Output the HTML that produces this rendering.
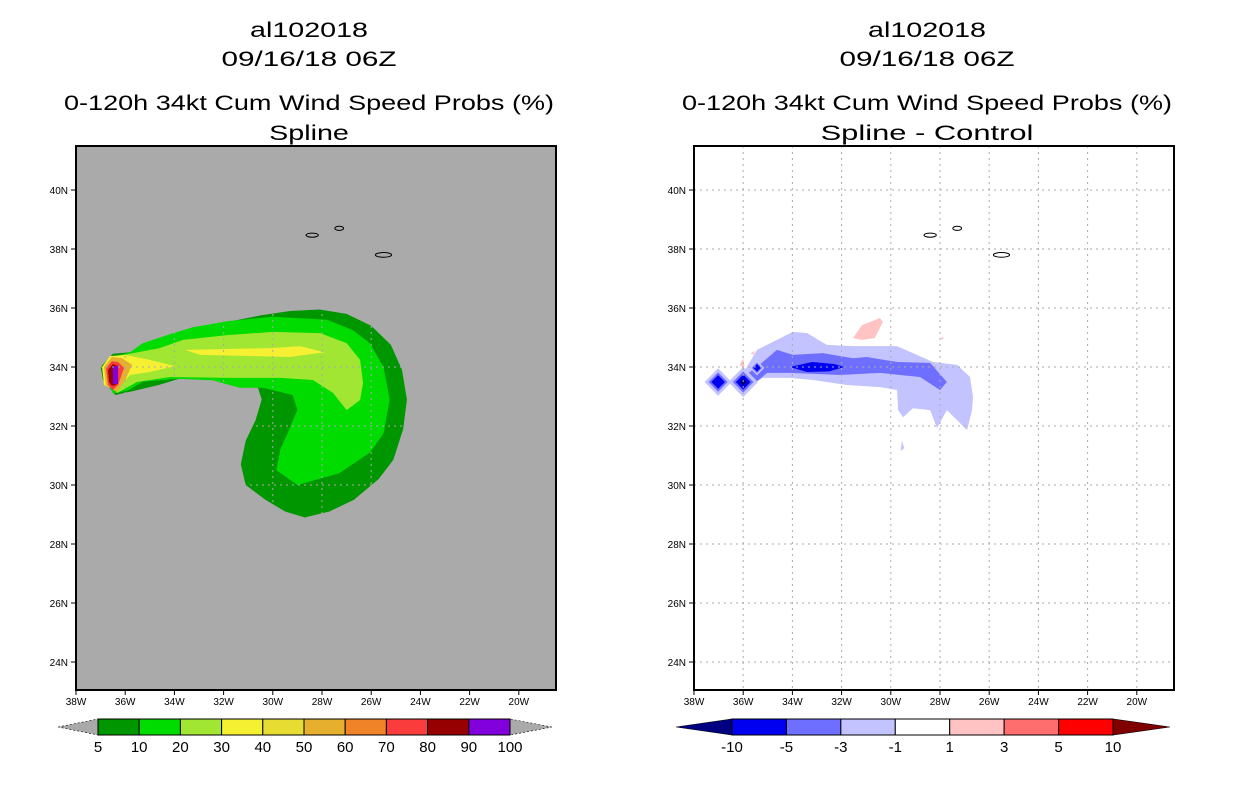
<!DOCTYPE html>
<html><head><meta charset="utf-8"><style>
html,body{margin:0;padding:0;background:#fff}
svg{display:block}
text{font-family:"Liberation Sans",sans-serif;fill:#000}
</style></head><body>
<svg id="s" width="1236" height="800" viewBox="0 0 1236 800"></svg>
<script>
// ---- data ----
const lonTicks=[38,36,34,32,30,28,26,24,22,20];
const latTicks=[40,38,36,34,32,30,28,26,24];
const leftLevels=["5","10","20","30","40","50","60","70","80","90","100"];
const leftColors=["#009600","#00dc00","#a0e632","#f5f032","#e6dc32","#e6af2d","#f08228","#fa3c3c","#960000","#8200dc"];
const rightLevels=["-10","-5","-3","-1","1","3","5","10"];
const rightColors=["#0000f0","#6e6eff","#c3c3ff","#ffffff","#ffc3c3","#ff6e6e","#ff0000"];
// contour polygons [lonW, latN]
const prob5=[[37,34.0],[36.5,34.45],[35.8,34.5],[35,34.75],[34,35.1],[33,35.35],[32,35.5],[30.5,35.75],[29.3,35.9],[28.1,35.95],[27,35.8],[26,35.4],[25.2,34.75],[24.75,33.9],[24.55,32.9],[24.7,31.9],[25.1,30.85],[25.7,30.2],[26.7,29.5],[27.7,29.1],[28.7,28.9],[29.5,29.1],[30.3,29.5],[31.1,30.0],[31.3,30.7],[31.1,31.5],[30.7,32.2],[30.45,32.9],[30.6,33.3],[31.3,33.6],[32.15,33.75],[33.4,33.7],[34.6,33.4],[35.6,33.2],[36.4,33.05],[36.9,33.55]];
const prob10=[[36.9,33.9],[36.5,34.35],[35.8,34.5],[35.3,34.8],[34.05,35.15],[33.25,35.35],[31.85,35.55],[30,35.7],[27.8,35.6],[26.75,35.25],[26.05,34.8],[25.5,34.0],[25.25,32.9],[25.5,31.75],[26.05,31.1],[27.3,30.4],[29.0,30.0],[29.85,30.5],[29.7,31.2],[29.4,31.75],[29.0,32.55],[29.2,33.05],[30.4,33.3],[31.35,33.3],[32.45,33.55],[33.9,33.6],[35.3,33.5],[35.9,33.2],[36.5,33.1]];
const prob20=[[36.9,33.8],[36.5,34.34],[35.68,34.47],[34.6,34.64],[33.65,34.92],[31.86,35.08],[30.0,35.19],[28.08,35.15],[27.0,34.81],[26.45,34.24],[26.33,33.46],[26.45,32.88],[27.0,32.54],[27.55,33.12],[28.37,33.56],[29.7,33.63],[31.86,33.63],[34.18,33.66],[35.52,33.49],[36.33,33.12]];
const prob30a=[[36.94,34.0],[36.62,34.37],[36.0,34.41],[35.0,34.24],[33.98,34.03],[35.0,33.83],[35.8,33.73],[36.4,33.22],[36.86,33.39]];
const prob30b=[[33.57,34.58],[30.1,34.64],[28.9,34.71],[27.9,34.5],[29.3,34.34],[32.96,34.41]];
const prob50=[[36.86,34.0],[36.54,34.34],[36.13,34.3],[35.72,34.07],[36.0,33.56],[36.33,33.15],[36.78,33.39]];
const prob70=[[36.78,33.97],[36.54,34.2],[36.29,34.17],[36.05,33.97],[36.29,33.39],[36.5,33.22],[36.7,33.39]];
const prob80=[[36.7,33.9],[36.5,34.1],[36.29,34.03],[36.37,33.39],[36.54,33.36],[36.66,33.49]];
const prob90=[[36.5,34.03],[36.29,34.03],[36.29,33.42],[36.5,33.42]];
const diffM1=[[35.2,34.68],[33.98,35.19],[33.4,35.15],[32.6,34.75],[31.54,34.71],[29.75,34.71],[29.1,34.47],[28.28,34.17],[27.3,34.07],[26.78,33.66],[26.66,32.98],[26.7,32.54],[26.9,31.86],[27.19,32.1],[27.72,32.54],[28.12,31.93],[28.4,32.54],[29.1,32.6],[29.5,32.3],[29.7,32.54],[29.75,33.22],[30.44,33.32],[31.78,33.39],[33.16,33.56],[34.1,33.63],[35.2,33.63],[35.85,33.32],[36.13,33.66],[35.85,34.0],[35.44,34.58]];
const diffM3=[[34.63,34.58],[33.98,34.41],[32.76,34.47],[31.54,34.3],[30.97,34.34],[29.75,34.17],[28.4,34.14],[27.72,33.49],[28.0,33.22],[28.81,33.66],[30.44,33.8],[32.07,33.73],[34.1,33.8],[35.03,33.8],[35.72,33.32],[36.0,33.22],[36.2,33.56],[35.44,34.0]];
const diffM5=[[34.1,34.0],[33.2,34.17],[32.3,34.1],[31.9,34.0],[32.5,33.85],[33.4,33.83]];
const diamonds=[[37.02,33.49,0.55],[36.0,33.49,0.6],[35.44,33.97,0.3]];
const pinkA=[[31.54,34.98],[31.17,35.42],[30.44,35.66],[30.32,35.53],[30.65,34.98],[31.17,34.92]];
const islands=[[28.4,38.47,0.25,0.07],[27.3,38.7,0.18,0.07],[25.5,37.8,0.33,0.08]];

const S=document.getElementById('s');
const NS='http://www.w3.org/2000/svg';
function el(t,a,p){const e=document.createElementNS(NS,t);for(const k in a)e.setAttribute(k,a[k]);(p||S).appendChild(e);return e;}
function mk(x0){return {x:lon=>x0+(38-lon)*24.6,y:lat=>190+(40-lat)*29.5};}
const L=mk(76),R=mk(694);
function poly(ax,pts,fill,name,g){const d=pts.map(p=>ax.x(p[0]).toFixed(1)+','+ax.y(p[1]).toFixed(1)).join(' ');
 const e=el('polygon',{points:d,fill:fill},g);
 
 return e;}
function txt(x,y,s,size,anchor,len,name){const a={x:x,y:y,'font-size':size,'text-anchor':anchor||'middle'};if(len){a.textLength=len;a.lengthAdjust='spacingAndGlyphs';}
 const e=el('text',a);e.textContent=s;
 
 return e;}

function panel(ax,x0,bg,isLeft){
 const g=el('g',{});
 
 
 const cp=el('clipPath',{id:'c'+x0});el('rect',{x:x0,y:146,width:480,height:544},cp);
 g.setAttribute('clip-path','url(#c'+x0+')');
 el('rect',{x:x0,y:146,width:480,height:544,fill:bg},g);
 if(isLeft){
  poly(ax,prob5,leftColors[0],'contour-5',g);
  poly(ax,prob10,leftColors[1],'contour-10',g);
  poly(ax,prob20,leftColors[2],'contour-20',g);
  poly(ax,prob30a,leftColors[3],'contour-30-tip',g);
  poly(ax,prob30b,leftColors[3],'contour-30-streak',g);
  poly(ax,prob50,leftColors[5],'contour-50',g);
  poly(ax,prob70,leftColors[7],'contour-70',g);
  poly(ax,prob80,leftColors[8],'contour-80',g);
  poly(ax,prob90,leftColors[9],'contour-90',g);
 } else {
  poly(ax,diffM1,rightColors[2],'diff-minus1',g);
  poly(ax,diffM3,rightColors[1],'diff-minus3',g);
  poly(ax,diffM5,rightColors[0],'diff-minus5',g);
  poly(ax,pinkA,rightColors[4],'diff-plus1',g);
  diamonds.forEach((d,i)=>{
   const c=[[d[0]+d[2],d[1]],[d[0],d[1]+d[2]*0.85],[d[0]-d[2],d[1]],[d[0],d[1]-d[2]*0.85]];
   poly(ax,c,rightColors[2],'diamond-outer',g);
   const c2=c.map(p=>[d[0]+(p[0]-d[0])*0.7,d[1]+(p[1]-d[1])*0.7]);
   poly(ax,c2,rightColors[1],'diamond-mid',g);
   const c3=c.map(p=>[d[0]+(p[0]-d[0])*0.5,d[1]+(p[1]-d[1])*0.5]);
   poly(ax,c3,rightColors[0],'diamond-core',g);
   if(i==1){const c4=c.map(p=>[d[0]+(p[0]-d[0])*0.22,d[1]+(p[1]-d[1])*0.22]);poly(ax,c4,'#000064','diamond-dark',g);}
  });
  poly(ax,[[35.7,34.45],[35.55,34.55],[35.55,34.42]],rightColors[4],'diff-plus-spot',g);
  poly(ax,[[36.15,34.05],[36.0,34.3],[35.95,34.0]],rightColors[4],'diff-plus-spot',g);
  poly(ax,[[28.0,34.98],[27.85,35.02],[27.9,34.92]],rightColors[4],'diff-plus-spot',g);
  poly(ax,[[29.55,31.5],[29.45,31.25],[29.6,31.15]],rightColors[2],'diff-minus-spot',g);
 }
 // grid
 lonTicks.forEach(v=>{const l=el('line',{x1:ax.x(v),x2:ax.x(v),y1:146,y2:690,stroke:'#aaa','stroke-dasharray':'2,4','stroke-width':1},g);
  });
 latTicks.forEach(v=>{const l=el('line',{x1:x0,x2:x0+480,y1:ax.y(v),y2:ax.y(v),stroke:'#aaa','stroke-dasharray':'2,4','stroke-width':1},g);
  });
 islands.forEach(d=>{const e=el('ellipse',{cx:ax.x(d[0]),cy:ax.y(d[1]),rx:d[2]*24.6,ry:d[3]*29.5,fill:'none',stroke:'#000','stroke-width':1},g);
  });
 const f=el('rect',{x:x0,y:146,width:480,height:544,fill:'none',stroke:'#000','stroke-width':2});
 
 lonTicks.forEach(v=>{el('line',{x1:ax.x(v),x2:ax.x(v),y1:690,y2:695,stroke:'#000'});
  txt(ax.x(v),705,v+'W',10,'middle',null,'x-tick-label');});
 latTicks.forEach(v=>{el('line',{x1:x0-5,x2:x0,y1:ax.y(v),y2:ax.y(v),stroke:'#000'});
  txt(x0-8,ax.y(v)+4,v+'N',10,'end',null,'y-tick-label');});
}
panel(L,76,'#aaaaaa',true);
panel(R,694,'#ffffff',false);

function titles(cx,sub){
 txt(cx,37,'al102018',21,'middle',118,'storm-id');
 txt(cx,66,'09/16/18 06Z',21,'middle',175,'date-title');
 txt(cx,110,'0-120h 34kt Cum Wind Speed Probs (%)',21,'middle',490,'chart-title');
 txt(cx,140,sub,21,'middle',sub.length*13.3,'chart-subtitle');
}
titles(309,'Spline');
titles(927,'Spline - Control');

function colorbar(x0,x1,tl,tr,colors,labels,name){
 const g=el('g',{});
 const n=colors.length,w=(x1-x0)/n;
 const triL=el('polygon',{points:`${tl.x},727 ${x0},719 ${x0},735`,fill:tl.c,stroke:'#000','stroke-width':0.6,'stroke-dasharray':tl.d||''},g);
 
 const triR=el('polygon',{points:`${tr.x},727 ${x1},719 ${x1},735`,fill:tr.c,stroke:'#000','stroke-width':0.6,'stroke-dasharray':tr.d||''},g);
 
 colors.forEach((c,i)=>{const r=el('rect',{x:x0+i*w,y:719,width:w,height:16,fill:c,stroke:'#000','stroke-width':1},g);
  });
 labels.forEach((s,i)=>txt(x0+i*w,752,s,15,'middle',null,'colorbar-label'));
}
colorbar(98,510,{x:58,c:'#aaa',d:'2,2'},{x:552,c:'#aaa',d:'2,2'},leftColors,leftLevels,'left-colorbar');
colorbar(732,1113,{x:676,c:'#000080'},{x:1170,c:'#800000'},rightColors,rightLevels,'right-colorbar');
</script>
</body></html>
